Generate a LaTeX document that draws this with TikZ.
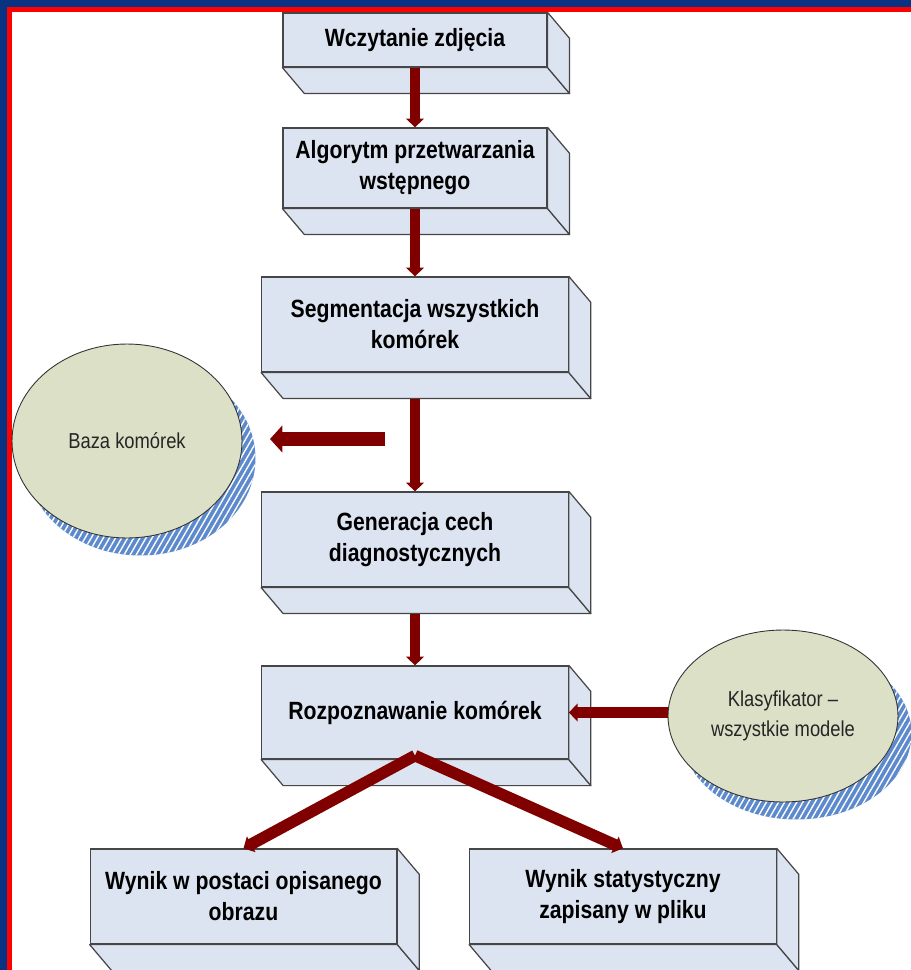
\documentclass[tikz,border=0pt]{standalone}
\usepackage{fontspec}
\setmainfont{Liberation Sans}[FakeStretch=0.85]
\usetikzlibrary{shapes.geometric,arrows.meta,patterns.meta}

\definecolor{bgblue}{RGB}{10,50,130}
\definecolor{framered}{RGB}{255,0,0}
\definecolor{boxfill}{RGB}{221,228,241}
\definecolor{boxedge}{RGB}{70,70,70}
\definecolor{ellfill}{RGB}{220,224,199}
\definecolor{shadowblue}{RGB}{92,138,204}
\definecolor{flowred}{RGB}{128,0,0}

\newcommand{\stagefont}{\fontsize{14.2}{17.6}\selectfont\bfseries}
\newcommand{\dbfont}{\fontsize{12.3}{17}\selectfont}

\begin{document}
\begin{tikzpicture}[x=0.02cm,y=-0.02cm]
    \newcommand{\slab}[1]{
      \filldraw[slabface] (#1.south west) -- (#1.south east) -- ([shift={(22,26)}]#1.south east) -- ([shift={(22,26)}]#1.south west) -- cycle;
      \filldraw[slabface] (#1.north east) -- ([shift={(22,26)}]#1.north east) -- ([shift={(22,26)}]#1.south east) -- (#1.south east) -- cycle;
    }

    \tikzstyle{stage}=[
      rectangle,
      draw=boxedge,
      fill=boxfill,
      line width=0.7pt,
      align=center,
      font=\stagefont,
      inner sep=2pt,
    ]
    \tikzstyle{wide}=[
      stage,
      minimum width=6.13cm,
      minimum height=1.9cm,
    ]
    \tikzstyle{slabface}=[draw=boxedge, fill=boxfill, line width=0.7pt, line join=round]
    \tikzstyle{db}=[
      ellipse,
      draw=black!80,
      fill=ellfill,
      line width=0.5pt,
      inner sep=0pt,
      align=center,
      font=\dbfont,
      text=black!85,
      preaction={fill=shadowblue, transform canvas={xshift=0.27cm, yshift=-0.35cm}},
      preaction={pattern={Lines[angle=60,distance=3pt,line width=0.8pt]}, pattern color=white,
                 transform canvas={xshift=0.27cm, yshift=-0.35cm}},
    ]
    \tikzstyle{flow}=[line width=5.8pt, draw=flowred, -{Triangle[width=10pt,length=5pt]}]

    % background and frame
    \useasboundingbox (0,0) rectangle (911,970);
    \fill[bgblue] (0,0) rectangle (911,970);
    \fill[framered] (7,7) rectangle (930,990);
    \fill[white] (12,12) rectangle (930,990);

    % data stores
    {
      \node[db, minimum width=4.6cm, minimum height=3.88cm] (baza) at (127,441) {Baza komórek};
      \node[db, minimum width=4.6cm, minimum height=3.44cm] (klasy) at (783,716) {Klasyfikator –\\wszystkie modele};
    }

    % processing steps
    {
      \node[stage, minimum width=5.28cm, minimum height=1.08cm] (wczyt) at (415,40) {Wczytanie zdjęcia};
      \node[stage, minimum width=5.28cm, minimum height=1.6cm] (algor) at (415,168) {Algorytm przetwarzania\\wstępnego};
      \node[wide] (segm) at (415,324.5) {Segmentacja wszystkich\\komórek};
      \node[wide] (gener) at (415,539.5) {Generacja cech\\diagnostycznych};
      \node[wide, minimum height=1.86cm] (rozp) at (415,712.5) {Rozpoznawanie komórek};
      \node[wide] (wynik1) at (243.5,896.5) {Wynik w postaci opisanego\\obrazu};
      \node[wide] (wynik2) at (623,896.5) {Wynik statystyczny\\zapisany w pliku};
    }

    {
      \slab{wczyt}
      \slab{algor}
      \slab{segm}
      \slab{gener}
      \slab{rozp}
      \slab{wynik1}
      \slab{wynik2}
    }

    % arrows
    {
      \coordinate (split) at ([yshift=0.08cm]rozp.south);
      \coordinate (tobaza1) at (385,439);
      \coordinate (tobaza2) at (270,439);

      \draw[flow] (wczyt.south)--(algor.north);
      \draw[flow] (algor.south)--(segm.north);
      \draw[flow] ([yshift=-0.52cm]segm.south)--(gener.north);
      \draw[flow] ([yshift=-0.52cm]gener.south)--(rozp.north);
      \draw[flow, line width=7.8pt, -{Triangle[width=15pt,length=7pt]}] (tobaza1)--(tobaza2);
      \draw[flow, line width=6.6pt] (klasy.west |- rozp.east)--(rozp.east);
      \draw[flow, line width=6.6pt] (split)--(wynik1.north);
      \draw[flow, line width=6.6pt] (split)--(wynik2.north);
    }
\end{tikzpicture}
\end{document}
